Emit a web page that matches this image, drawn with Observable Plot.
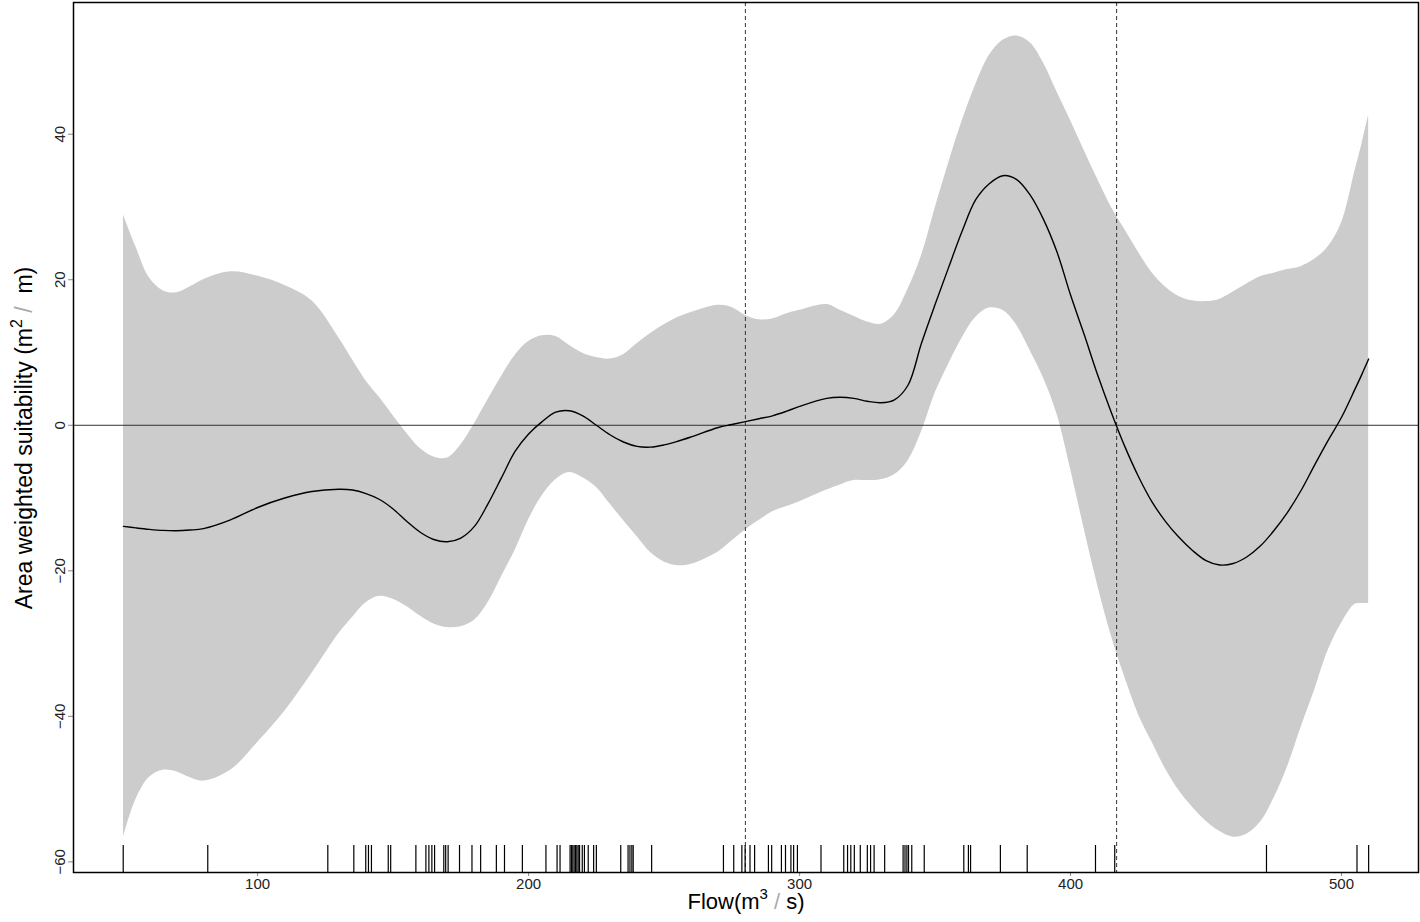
<!DOCTYPE html>
<html><head><meta charset="utf-8">
<script src="https://cdn.jsdelivr.net/npm/d3@7"></script>
<script src="https://cdn.jsdelivr.net/npm/@observablehq/plot@0.6"></script>
<style>html,body{margin:0;padding:0;background:#fff}svg{display:block}</style>
</head><body><div id="chart"></div>
<script>
// Flow grid (m3/s)
const flow = [50.5,55,60,65,70,75,80,
  90,100,110,120,130,
  135,140,145,150,155,160,165,170,175,180,185,190,195,200,205,210,215,220,225,230,235,240,245,250,255,260,
  270,275,280,285,290,295,300,
  310,315,320,325,330,335,340,345,350,355,360,365,370,375,380,385,390,395,400,405,410,415,420,425,430,435,440,445,450,455,460,465,470,475,480,485,490,495,500,505,
  507.5,510];
// Fitted smooth
const fit = [-13.9,-14.1,-14.3,-14.45,-14.5,-14.4,-14.2,
  -13.0,-11.3,-10.0,-9.1,-8.8,
  -8.9,-9.4,-10.2,-11.5,-13.2,-14.7,-15.7,-16.0,-15.5,-13.9,-10.8,-7.2,-3.6,-1.2,0.5,1.8,2.0,1.3,0.0,-1.3,-2.3,-2.9,-3.0,-2.7,-2.2,-1.6,
  -0.3,0.1,0.5,0.9,1.3,1.9,2.6,
  3.7,3.85,3.7,3.3,3.1,3.5,5.5,11.3,16.6,21.7,26.7,31.0,33.2,34.3,33.8,31.7,28.3,23.8,17.9,12.5,6.9,1.8,-2.9,-7.0,-10.5,-13.2,-15.4,-17.2,-18.6,-19.2,-19.0,-18.1,-16.6,-14.5,-12.0,-9.0,-5.5,-2.1,1.1,5.0,
  7.0,9.1];
// Upper confidence limit
const upper = [28.9,24.6,20.3,18.5,18.2,19.0,20.0,
  21.1,20.5,19.2,17.1,12.0,
  9.0,6.1,3.8,1.3,-1.1,-3.2,-4.35,-4.5,-2.7,0.2,3.5,6.7,9.6,11.5,12.3,12.2,11.0,9.9,9.3,9.1,9.7,11.2,12.6,13.8,14.8,15.5,
  16.5,16.2,15.1,14.5,14.6,15.3,15.8,
  16.6,15.8,15.0,14.2,13.9,15.2,18.7,23.3,29.8,36.0,41.8,46.8,50.8,52.9,53.5,52.6,49.8,45.8,41.9,37.8,33.8,30.0,26.9,23.8,21.0,19.0,17.7,17.1,17.0,17.3,18.3,19.4,20.4,20.9,21.4,21.8,22.8,24.5,27.8,35.0,
  38.6,42.6];
// Lower confidence limit
const lower = [-56.6,-51.5,-48.4,-47.4,-47.6,-48.4,-48.9,
  -47.4,-43.6,-39.3,-34.1,-28.6,
  -26.4,-24.4,-23.5,-23.9,-24.9,-26.2,-27.3,-27.8,-27.7,-26.8,-24.4,-20.8,-17.2,-13.0,-9.7,-7.5,-6.5,-7.2,-8.5,-10.8,-13.1,-15.3,-17.5,-18.8,-19.3,-19.1,
  -17.4,-15.9,-14.4,-13.1,-11.9,-11.2,-10.5,
  -8.9,-8.2,-7.6,-7.6,-7.5,-6.8,-4.9,-0.9,4.4,8.4,12.0,14.8,16.1,15.8,13.8,10.3,6.5,1.5,-6.0,-14.2,-22.0,-28.9,-34.6,-39.7,-43.5,-47.2,-50.2,-52.5,-54.4,-55.8,-56.6,-56.2,-54.6,-51.3,-47.0,-41.6,-36.5,-31.0,-27.2,-24.6,
  -24.5,-24.5];
// Observed flows (rug)
const rugFlow = [50.4,81.6,125.9,135.5,139.9,140.9,142.0,148.2,149.1,158.4,162.1,163.2,164.3,165.3,168.7,169.4,170.3,174.5,179.1,182.3,188.1,191.1,197.7,206.4,210.5,211.6,215.3,215.8,216.3,216.8,217.3,217.8,218.3,218.8,219.8,220.6,222.0,224.0,225.0,234.0,236.7,237.4,238.1,238.6,245.4,271.9,275.7,278.7,279.9,281.7,283.4,288.5,289.7,293.3,294.8,296.8,297.8,299.2,307.9,316.3,317.7,318.9,320.2,322.4,325.0,326.2,327.5,331.4,338.2,338.9,339.6,340.2,341.4,346.0,360.6,362.3,363.1,374.1,384.0,409.2,416.3,472.3,505.7,510.0];
// Reference flows (dashed)
const refFlow = [280, 417];
const xTicks = [100, 200, 300, 400, 500];
const yTicks = [-60, -40, -20, 0, 20, 40];

const rows = flow.map((f, i) => ({flow: f, fit: fit[i], upper: upper[i], lower: lower[i]}));

const chart = Plot.plot({
  width: 1420, height: 922,
  marginLeft: 73, marginRight: 2, marginTop: 2, marginBottom: 50,
  style: {fontFamily: "'Liberation Sans', Arial, sans-serif", fontSize: "15px", background: "#fff", color: "#222"},
  x: {domain: [32.05, 528.4]},
  y: {domain: [-61.46, 58.1]},
  marks: [
    Plot.areaY(rows, {x: "flow", y1: "lower", y2: "upper", fill: "#cccccc", curve: "catmull-rom"}),
    Plot.ruleY([0], {stroke: "#333", strokeWidth: 1}),
    Plot.ruleX(refFlow, {stroke: "#333", strokeWidth: 1, strokeDasharray: "4,3"}),
    Plot.line(rows, {x: "flow", y: "fit", stroke: "#000", strokeWidth: 1.4, curve: "catmull-rom"}),
    Plot.ruleX(rugFlow, {stroke: "#000", strokeWidth: 1.2, insetTop: 843}),
    Plot.axisX({ticks: xTicks, tickSize: 4, tickPadding: 2, stroke: "#888", fill: "#222", fontSize: 15, label: null}),
    Plot.axisY({ticks: yTicks, tickSize: 5, tickPadding: 4, tickRotate: -90, stroke: "#888", fill: "#222", fontSize: 15, label: null}),
    Plot.frame({stroke: "#000", strokeWidth: 1.5})
  ]
});

const svg = d3.select(chart);
const xt = svg.append("text")
  .attr("x", 746).attr("y", 909)
  .attr("text-anchor", "middle")
  .attr("fill", "#000")
  .style("font-family", "'Liberation Sans', Arial, sans-serif")
  .style("font-size", "22px");
xt.append("tspan").text("Flow(m");
xt.append("tspan").attr("dy", -10).style("font-size", "15px").text("3");
xt.append("tspan").attr("dy", 10).attr("fill", "#aaa").text(" / ");
xt.append("tspan").text("s)");

const yt = svg.append("text")
  .attr("transform", "translate(32,438) rotate(-90)")
  .attr("text-anchor", "middle")
  .attr("fill", "#000")
  .style("font-family", "'Liberation Sans', Arial, sans-serif")
  .style("font-size", "23px");
yt.append("tspan").text("Area weighted suitability (m");
yt.append("tspan").attr("dy", -10).style("font-size", "16px").text("2");
yt.append("tspan").attr("dy", 10).attr("fill", "#aaa").text(" / ");
yt.append("tspan").text(" m)");

document.getElementById("chart").append(chart);
</script>
</body></html>
